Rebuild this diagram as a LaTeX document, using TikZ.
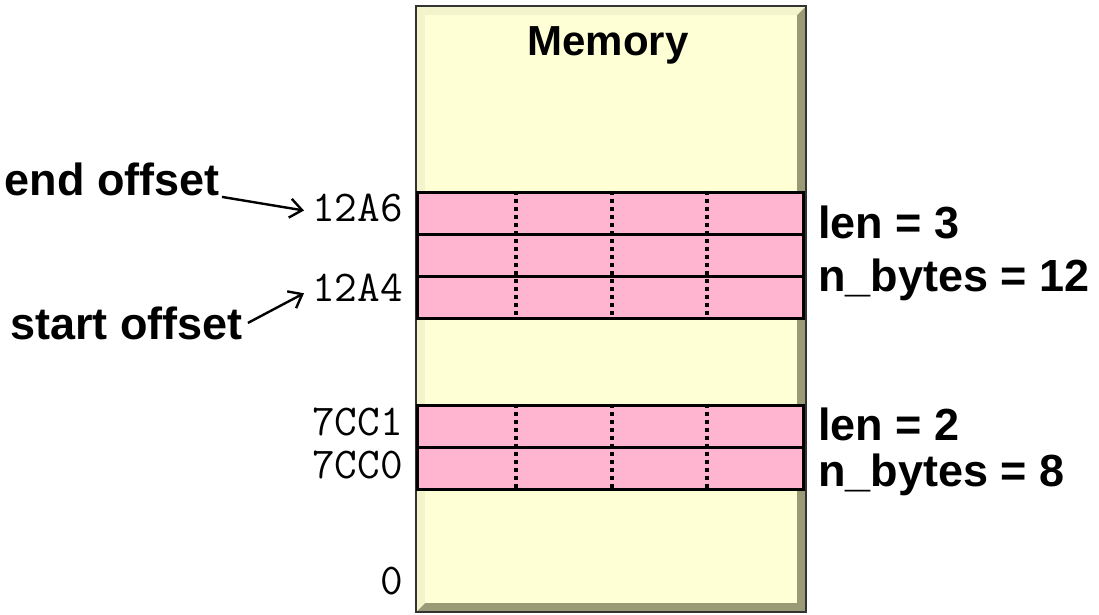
\documentclass[tikz,border=0pt]{standalone}
\usepackage{fontspec}
\setmainfont{Liberation Sans}
\usetikzlibrary{arrows.meta}
\definecolor{memfill}{HTML}{FFFFD6}
\definecolor{bevlight}{HTML}{F4F4CC}
\definecolor{bevdark}{HTML}{9A9A76}
\definecolor{pinkrow}{HTML}{FFB5D0}
\tikzset{
  lab/.style={inner sep=0pt, font=\fontsize{45}{48}\selectfont\bfseries},
  mono/.style={inner sep=0pt, font=\fontsize{44}{46}\selectfont\ttfamily},
  rowbox/.style={draw=black, line width=3pt, fill=pinkrow, minimum width=386pt, minimum height=42pt, inner sep=0pt},
  dotline/.style={line width=4pt, dash pattern=on 4pt off 4pt},
  arr/.style={line width=2.4pt, -{Straight Barb[length=12pt,width=19pt,line width=2.4pt]}}
}
\begin{document}
\begin{tikzpicture}[x=1pt,y=-1pt]
\useasboundingbox (0,0) rectangle (1099,614);
% memory box with bevel
\fill[black!80] (415,5) rectangle (807,613);
\fill[bevdark] (417,7) rectangle (805,611);
\fill[bevlight] (417,7) -- (805,7) -- (797,15) -- (425,15) -- (425,603) -- (417,611) -- cycle;
\fill[memfill] (425,15) rectangle (797,603);
\node[inner sep=0pt, font=\fontsize{42}{46}\selectfont\bfseries, anchor=base] (mem) at (608,55) {Memory};
% rows
\node[rowbox] (r1) at (610,213) {};
\node[rowbox] (r2) at (610,255) {};
\node[rowbox] (r3) at (610,297) {};
\node[rowbox] (r4) at (610,426) {};
\node[rowbox] (r5) at (610,468) {};
\foreach \d in {100,196,291}{
  \draw[dotline] ([xshift=\d pt]r1.north west) -- ([xshift=\d pt]r3.south west);
  \draw[dotline] ([xshift=\d pt]r4.north west) -- ([xshift=\d pt]r5.south west);
}
% addresses
\node[mono, anchor=base east] (a6) at (403,221) {12A6};
\node[mono, anchor=base east] (a4) at (403,301) {12A4};
\node[mono, anchor=base east] (c1) at (403,435) {7CC1};
\node[mono, anchor=base east] (c0) at (403,478) {7CC0};
\node[mono, anchor=base east] (z0) at (403,594) {0};
% offset labels
\node[lab, anchor=base east] (eo) at (220,195) {end offset};
\node[lab, anchor=base west] (so) at (10,339) {start offset};
\coordinate (eoS) at ([xshift=2pt,yshift=-18pt]eo.east);
\coordinate (soS) at ([xshift=5pt,yshift=0pt]so.east);
\draw[arr] (eoS) -- ([xshift=-8pt,yshift=-3pt]a6.west);
\draw[arr] (soS) -- ([xshift=-8pt,yshift=-6pt]a4.west);
% right labels
\node[lab, anchor=base west] (l3) at (818,238) {len = 3};
\node[lab, anchor=base west] (n12) at (818,291) {n\_bytes = 12};
\node[lab, anchor=base west] (l2) at (818,440) {len = 2};
\node[lab, anchor=base west] (n8) at (818,486) {n\_bytes = 8};
\end{tikzpicture}
\end{document}
